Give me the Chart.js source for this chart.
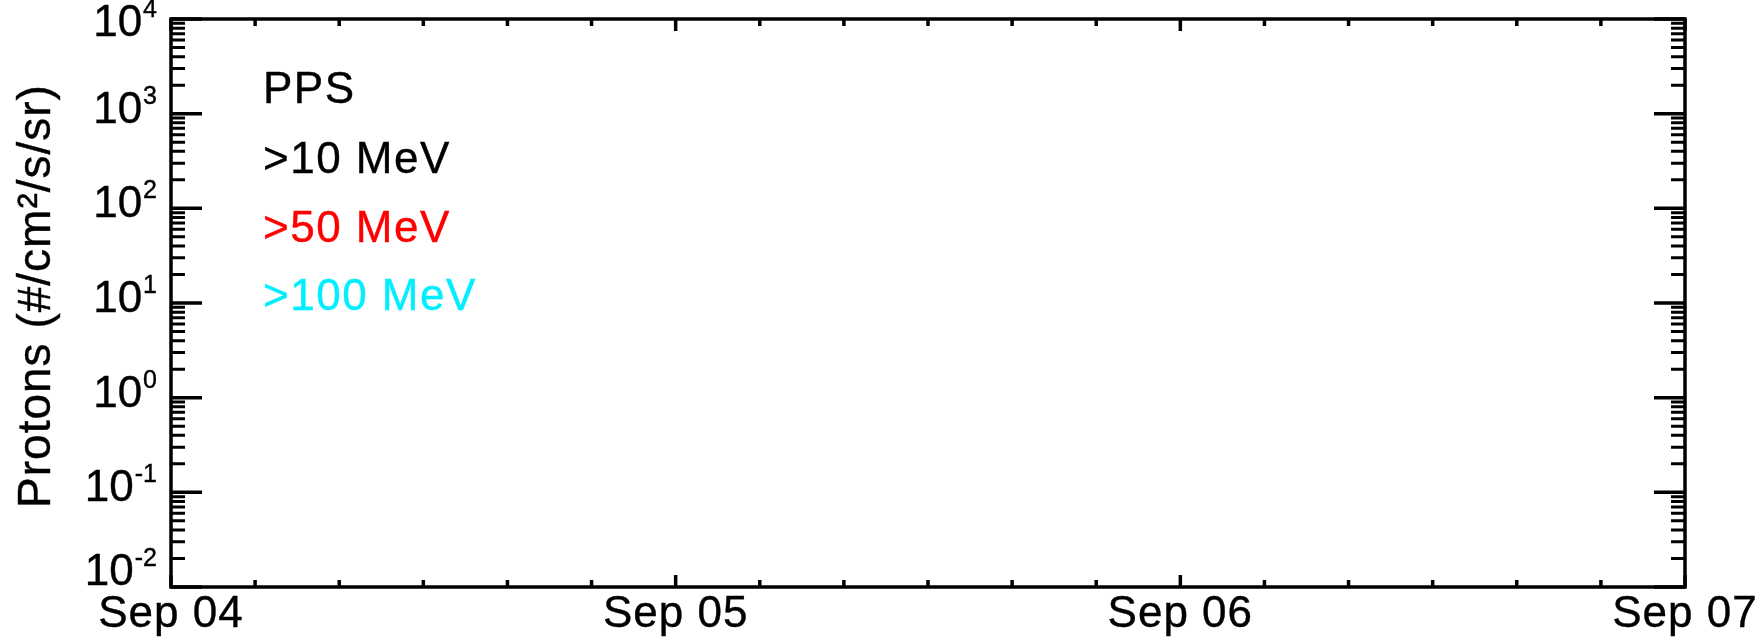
<!DOCTYPE html>
<html><head><meta charset="utf-8">
<script src="https://cdn.jsdelivr.net/npm/chart.js@4.4.1/dist/chart.umd.min.js"></script>
<style>html,body{margin:0;padding:0;background:#fff;} canvas{display:block;}</style>
</head><body>
<canvas id="c" width="1763" height="641"></canvas>
<script>
// ---- data ----
const legendTitle = 'PPS';
const seriesLabels = ['>10 MeV', '>50 MeV', '>100 MeV'];
const seriesColors = ['#000000', '#ff0000', '#00eeff'];
const series10 = [];   // no points plotted in the reference
const series50 = [];
const series100 = [];
const yAxisTitle = 'Protons (#/cm\u00B2/s/sr)';
const xTickHours = [0, 24, 48, 72];
const xTickLabels = ['Sep 04', 'Sep 05', 'Sep 06', 'Sep 07'];
const xMinorHours = [4, 8, 12, 16, 20, 28, 32, 36, 40, 44, 52, 56, 60, 64, 68];
const yTickExponents = [-2, -1, 0, 1, 2, 3, 4];
const yMinorMantissas = [2, 3, 4, 5, 6, 7, 8, 9];

const FONT = "'Liberation Sans', Arial, sans-serif";

function heavyText(ctx, txt, x, y, color) {
  ctx.fillStyle = color;
  ctx.strokeStyle = color;
  ctx.lineWidth = 0.4;
  ctx.fillText(txt, x, y);
  ctx.strokeText(txt, x, y);
}

const idlFrame = {
  id: 'idlFrame',
  afterDraw(chart) {
    const ctx = chart.ctx;
    const a = chart.chartArea;
    const xs = chart.scales.x, ys = chart.scales.y;
    ctx.save();
    ctx.strokeStyle = '#000';
    ctx.fillStyle = '#000';
    // frame
    ctx.lineWidth = 3.5;
    ctx.strokeRect(a.left, a.top, a.right - a.left, a.bottom - a.top);
    // x ticks
    ctx.lineWidth = 3.5;
    const xt = (h, len) => {
      const px = xs.getPixelForValue(h);
      ctx.beginPath();
      ctx.moveTo(px, a.bottom); ctx.lineTo(px, a.bottom - len);
      ctx.moveTo(px, a.top); ctx.lineTo(px, a.top + len);
      ctx.stroke();
    };
    xTickHours.forEach(h => xt(h, 12));
    xMinorHours.forEach(h => xt(h, 7));
    // y ticks
    const yt = (v, len, w) => {
      const py = ys.getPixelForValue(v);
      ctx.lineWidth = w;
      ctx.beginPath();
      ctx.moveTo(a.left, py); ctx.lineTo(a.left + len, py);
      ctx.moveTo(a.right, py); ctx.lineTo(a.right - len, py);
      ctx.stroke();
    };
    yTickExponents.forEach((e, i) => {
      const base = Math.pow(10, e);
      yt(base, 31, 3.5);
      if (i < yTickExponents.length - 1) {
        yMinorMantissas.forEach(m => yt(m * base, 14, 3));
      }
    });
    // y tick labels 10^n
    ctx.textBaseline = 'alphabetic';
    yTickExponents.forEach(e => {
      const py = ys.getPixelForValue(Math.pow(10, e));
      let base = py + 9;
      base = Math.max(36, Math.min(585, base));
      const sup = String(e);
      ctx.font = '25px ' + FONT;
      ctx.textAlign = 'right';
      const right = 157;
      heavyText(ctx, sup, right, base - 19, '#000');
      const sw = ctx.measureText(sup).width;
      ctx.font = '44px ' + FONT;
      heavyText(ctx, '10', right - sw - 1, base, '#000');
    });
    // x tick labels
    ctx.font = '44px ' + FONT;
    ctx.letterSpacing = '1px';
    ctx.textAlign = 'center';
    xTickHours.forEach((h, i) => {
      heavyText(ctx, xTickLabels[i], xs.getPixelForValue(h), 627, '#000');
    });
    // y axis title
    ctx.save();
    ctx.translate(50, (a.top + a.bottom) / 2 - 7);
    ctx.rotate(-Math.PI / 2);
    ctx.font = '46px ' + FONT;
    ctx.letterSpacing = '1px';
    ctx.textAlign = 'center';
    heavyText(ctx, yAxisTitle, 0, 0, '#000');
    ctx.restore();
    // legend text
    ctx.font = '44px ' + FONT;
    ctx.letterSpacing = '1.5px';
    ctx.textAlign = 'left';
    heavyText(ctx, legendTitle, 263, 103, '#000');
    const baselines = [173, 242, 310];
    chart.data.datasets.forEach((ds, i) => {
      heavyText(ctx, ds.label, 263, baselines[i], ds.borderColor);
    });
    ctx.restore();
  }
};

new Chart(document.getElementById('c'), {
  type: 'line',
  data: {
    datasets: [
      { label: seriesLabels[0], data: series10, borderColor: seriesColors[0], pointRadius: 0, borderWidth: 1 },
      { label: seriesLabels[1], data: series50, borderColor: seriesColors[1], pointRadius: 0, borderWidth: 1 },
      { label: seriesLabels[2], data: series100, borderColor: seriesColors[2], pointRadius: 0, borderWidth: 1 }
    ]
  },
  options: {
    responsive: false,
    animation: false,
    layout: { padding: { left: 171, top: 19, right: 78, bottom: 54 } },
    scales: {
      x: { type: 'linear', min: 0, max: 72, display: false },
      y: { type: 'logarithmic', min: 0.01, max: 10000, display: false }
    },
    plugins: { legend: { display: false }, tooltip: { enabled: false } }
  },
  plugins: [idlFrame]
});
</script>
</body></html>
